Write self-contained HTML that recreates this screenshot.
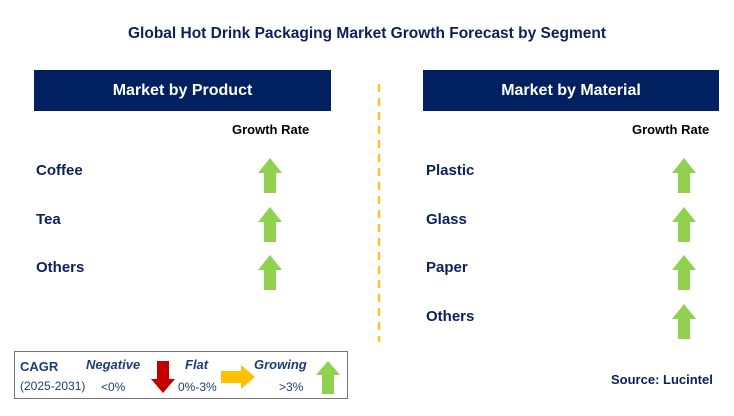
<!DOCTYPE html>
<html><head><meta charset="utf-8"><style>
body{margin:0;width:734px;height:416px;background:#fff;position:relative;overflow:hidden;font-family:"Liberation Sans",Arial,sans-serif}
.a{position:absolute}
.title{left:0;width:734px;top:25px;text-align:center;font-weight:bold;font-size:15.5px;color:#0d1f5c}
.hdr{background:#002060;color:#fff;font-weight:bold;font-size:16px;text-align:center;line-height:41px;height:41px;top:70px}
.gr{font-weight:bold;font-size:13px;color:#000}
.lbl{font-weight:bold;font-size:15px;color:#0d1f5c}
.leg{color:#1f3d7a;font-size:12px}
</style></head><body>
<div class="a title">Global Hot Drink Packaging Market Growth Forecast by Segment</div>
<div class="a hdr" style="left:34px;width:297px">Market by Product</div>
<div class="a hdr" style="left:423px;width:296px">Market by Material</div>
<svg class="a" style="left:374px;top:80px" width="10" height="265"><line x1="5" y1="4" x2="5" y2="262" stroke="#fcc52a" stroke-width="2.5" stroke-dasharray="8,6"/></svg>
<div class="a gr" style="left:232px;top:122px">Growth Rate</div>
<div class="a gr" style="left:632px;top:122px">Growth Rate</div>
<div id="rows"></div>
<div class="a" style="left:14px;top:351px;width:332px;height:46px;border:1.5px solid #777"></div>
<div class="a leg" style="left:20px;top:359px;font-weight:bold;font-size:13px">CAGR</div>
<div class="a leg" style="left:20px;top:379px">(2025-2031)</div>
<div class="a leg" style="left:86px;top:357px;font-weight:bold;font-style:italic;font-size:13px">Negative</div>
<div class="a leg" style="left:101px;top:380px">&lt;0%</div>
<div class="a leg" style="left:185px;top:357px;font-weight:bold;font-style:italic;font-size:13px">Flat</div>
<div class="a leg" style="left:178px;top:380px">0%-3%</div>
<div class="a leg" style="left:254px;top:357px;font-weight:bold;font-style:italic;font-size:13px">Growing</div>
<div class="a leg" style="left:279px;top:380px">&gt;3%</div>
<svg class="a" style="left:150px;top:361px" width="26" height="34"><polygon points="7,0 19,0 19,18 25,18 13,32 1,18 7,18" fill="#c00000"/></svg>
<svg class="a" style="left:221px;top:365px" width="36" height="26"><polygon points="0,6 20,6 20,0 34,12 20,24 20,18 0,18" fill="#ffc000"/></svg>
<svg class="a" style="left:315px;top:361px" width="26" height="34"><polygon points="13,0 25,14 19,14 19,33 7,33 7,14 1,14" fill="#92d050"/></svg>
<div class="a" style="left:611px;top:372px;font-weight:bold;font-size:13px;color:#0d1f5c">Source: Lucintel</div>
<script>
const productLabels=["Coffee","Tea","Others"];
const materialLabels=["Plastic","Glass","Paper","Others"];
const productTrend=["up","up","up"];
const materialTrend=["up","up","up","up"];
const root=document.getElementById('rows');
function row(label,trend,x,ax,i,group){
  const y=170+i*48.5;
  const d=document.createElement('div');
  d.className='a lbl';d.style.left=x+'px';d.style.top=(y-8)+'px';d.textContent=label;
  
  
  root.appendChild(d);
  const s=document.createElementNS('http://www.w3.org/2000/svg','svg');
  s.setAttribute('width','26');s.setAttribute('height','36');
  s.setAttribute('class','a');s.style.left=(ax-13)+'px';s.style.top=(y-12)+'px';
  
  
  const p=document.createElementNS('http://www.w3.org/2000/svg','polygon');
  p.setAttribute('points', trend==='up'?"13,0 25,15 19,15 19,35 7,35 7,15 1,15":"7,0 19,0 19,20 25,20 13,35 1,20 7,20");
  p.setAttribute('fill', trend==='up'?'#92d050':'#c00000');
  s.appendChild(p);root.appendChild(s);
}
productLabels.forEach((l,i)=>row(l,productTrend[i],36,270,i,'product'));
materialLabels.forEach((l,i)=>row(l,materialTrend[i],426,684,i,'material'));
</script>
</body></html>
